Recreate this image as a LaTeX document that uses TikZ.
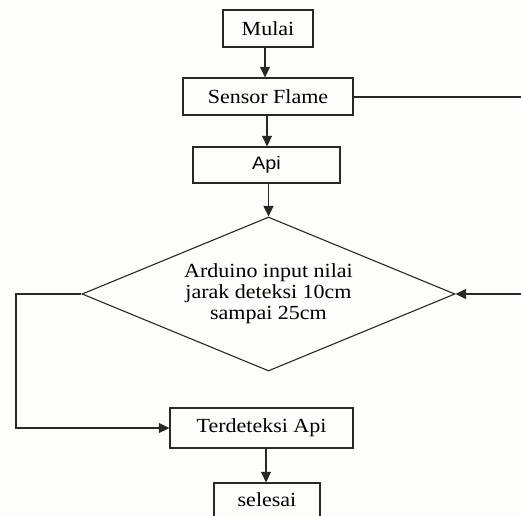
\documentclass[tikz,border=0pt]{standalone}
\usepackage{fontspec}
\setmainfont[FakeStretch=1.1]{Liberation Serif}
\newfontfamily\apifont[FakeStretch=1.1]{Liberation Sans}
\usetikzlibrary{shapes.geometric,arrows.meta}
\definecolor{bgcol}{RGB}{253,253,249}
\definecolor{linecol}{RGB}{40,40,40}
\begin{document}
\begin{tikzpicture}[x=1pt,y=-1pt,
  every node/.style={font=\fontsize{20}{21}\selectfont, text=black},
  box/.style={draw=linecol, line width=1.3pt, rectangle, inner sep=0pt, fill=bgcol},
  decision/.style={draw=linecol, line width=1.1pt, diamond, inner sep=0pt, shape aspect=2.42, align=center},
  conn/.style={draw=linecol, line width=1.1pt},
  arr/.style={conn, -{Triangle[length=10.5pt,width=10pt]}}]
\fill[bgcol] (0,0) rectangle (521,515);
\useasboundingbox (0,0) rectangle (521,515);
\clip (0,0) rectangle (521,515);
\node[box, minimum width=90pt, minimum height=37pt] (mulai) at (268,28.5) {Mulai};
\node[box, minimum width=170pt, minimum height=37pt] (sensor) at (268,96.5) {Sensor Flame};
\node[box, minimum width=147pt, minimum height=36pt, font=\apifont\fontsize{18}{20}\selectfont] (api) at (266.5,165) {Api};
\node[decision, minimum width=373pt, minimum height=154pt] (dec) at (268.5,294) {Arduino input nilai\\jarak deteksi 10cm\\sampai 25cm};
\node[box, minimum width=183pt, minimum height=40pt] (detect) at (261.5,428) {Terdeteksi Api};
\node[box, minimum width=106pt, minimum height=34pt] (selesai) at (267,500) {selesai};
\coordinate (sensorOut) at (522,97);
\coordinate (decIn) at (522,294);
\coordinate (leftTurn) at (16,294);
\draw[arr] (mulai.south -| 265,0) -- (sensor.north -| 265,0);
\draw[arr] (sensor.south -| 267,0) -- (api.north -| 267,0);
\draw[conn] (sensor.east |- sensorOut) -- (sensorOut);
\draw[arr] (api.south -| 268.5,0) -- (dec.north);
\draw[arr] (decIn) -- (dec.east);
\draw[arr] (dec.west) -- (leftTurn) |- (detect.west);
\draw[arr] (detect.south -| 266,0) -- (selesai.north -| 266,0);
\end{tikzpicture}
\end{document}
